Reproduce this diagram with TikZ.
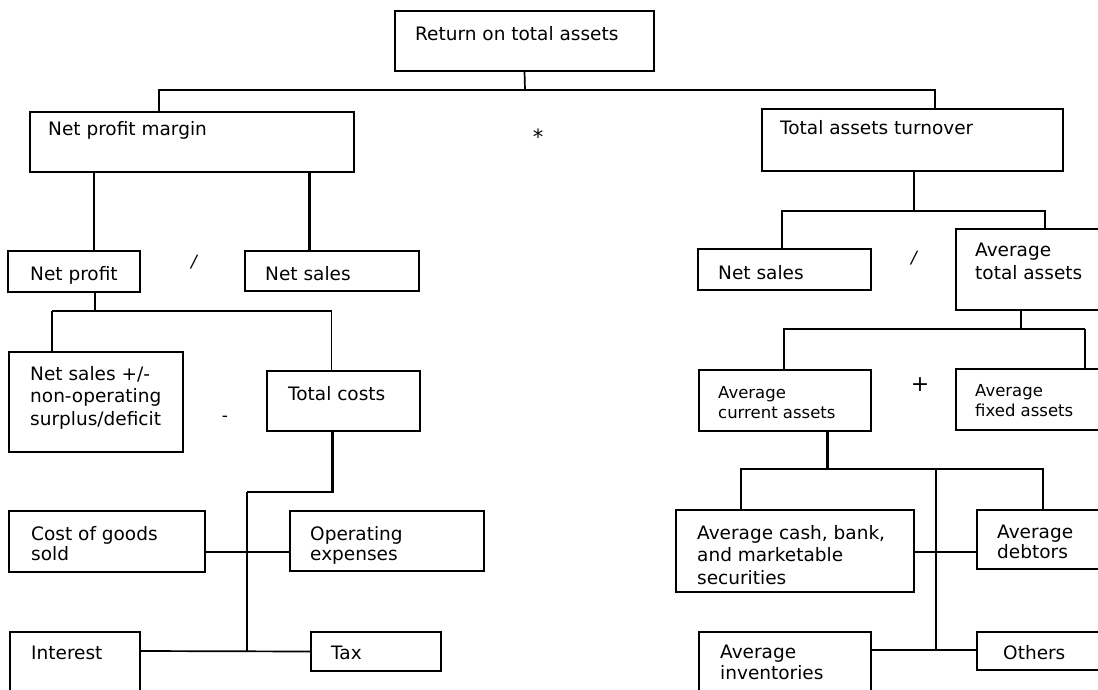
\documentclass[tikz,border=0pt]{standalone}
\usepackage{fontspec}
\setmainfont{DejaVu Sans}
\usetikzlibrary{calc}
\tikzset{
  box/.style={draw, line width=1.9pt, anchor=north west, inner sep=0pt, outer sep=0pt},
  txt/.style={anchor=north west, inner sep=0pt, align=left, font=\fontsize{18.5}{22.5}\selectfont},
  smalltxt/.style={txt, font=\fontsize{16.5}{20}\selectfont},
  optxt/.style={inner sep=0pt, font=\fontsize{17}{20}\selectfont},
  cmed/.style={line width=1.7pt},
  cthick/.style={line width=2.7pt},
  cthin/.style={line width=1.2pt}
}
\newcommand{\bx}[5]{\node[box, minimum width=#4pt, minimum height=#5pt] (#1) at (#2,#3) {};}
\begin{document}
\begin{tikzpicture}[x=1pt, y=-1pt]
\clip (0,0) rectangle (1098,689);
\fill[white] (0,0) rectangle (1098,689);
% boxes
\bx{top}{395}{11}{259}{60}
\bx{npm}{30}{112}{324}{60}
\bx{tat}{762}{109}{301}{62}
\bx{np}{8}{251}{132}{41}
\bx{nsa}{245}{251}{174}{40}
\bx{nsb}{698}{249}{173}{41}
\bx{ata}{956}{229}{160}{81}
\bx{nsx}{9}{352}{174}{100}
\bx{tc}{267}{371}{153}{60}
\bx{aca}{699}{370}{172}{61}
\bx{afa}{956}{369}{160}{61}
\bx{cogs}{9}{511}{196}{61}
\bx{opex}{290}{511}{194}{60}
\bx{cash}{676}{510}{238}{82}
\bx{deb}{977}{510}{140}{59}
\bx{int}{10}{632}{130}{70}
\bx{tax}{311}{632}{130}{39}
\bx{inv}{699}{632}{172}{70}
\bx{oth}{977}{632}{140}{38}
% texts
\node[txt] (topt) at (415,26) {Return on total assets};
\node[txt] (npmt) at (48,121) {Net profit margin};
\node[txt] (tatt) at (780,120) {Total assets turnover};
\node[txt] (npt) at (30,266) {Net profit};
\node[txt] (nsat) at (265,266) {Net sales};
\node[txt] (nsbt) at (718,265) {Net sales};
\node[txt] (atat) at (975,243) {Average\\total assets};
\node[txt] (nsxt) at (30,366) {Net sales +/-\\non-operating\\surplus/deficit};
\node[txt] (tct) at (288,386) {Total costs};
\node[smalltxt] (acat) at (718,386) {Average\\current assets};
\node[smalltxt] (afat) at (975,384) {Average\\fixed assets};
\node[txt, font=\fontsize{18.5}{20}\selectfont] (cogst) at (31,526) {Cost of goods\\sold};
\node[txt, font=\fontsize{18.5}{20}\selectfont] (opext) at (310,526) {Operating\\expenses};
\node[txt] (casht) at (697,525) {Average cash, bank,\\and marketable\\securities};
\node[txt, font=\fontsize{18.5}{20}\selectfont] (debt) at (997,525) {Average\\debtors};
\node[txt] (intt) at (31,646) {Interest};
\node[txt] (taxt) at (331,646) {Tax};
\node[txt, font=\fontsize{18.5}{21}\selectfont] (invt) at (720,645) {Average\\inventories};
\node[txt] (otht) at (1003,645) {Others};
% operators
\node[optxt, font=\fontsize{21}{24}\selectfont] (op1) at (538,137) {*};
\node[optxt] (op2) at (194,262) {\itshape /};
\node[optxt] (op3) at (225,419) {-};
\node[optxt] (op4) at (914,258) {\itshape /};
\node[optxt, font=\fontsize{22}{24}\selectfont] (op5) at (920,385) {+};
% connectors: return on total assets
\coordinate (j1) at (525,90);
\draw[cmed] (top.south) -- (j1);
\draw[cmed] (j1) -| ($(npm.north west)+(129,0)$);
\draw[cmed] (j1) -| ($(tat.north west)+(173,0)$);
% net profit margin
\draw[cthick] ($(npm.south west)+(64,0)$) -- ($(np.north west)+(86,0)$);
\draw[cthick] ($(npm.south west)+(279.5,0)$) -- ($(nsa.north west)+(64.5,0)$);
% net profit
\coordinate (j2) at (95,311);
\draw[cthick] ($(np.south west)+(87,0)$) -- (j2);
\draw[cthin] (j2) -| ($(tc.north west)+(64.6,0)$);
\draw[cmed] (j2) -- (52,311);
\draw[cthick] (52,311) -- ($(nsx.north west)+(43,0)$);
% total costs
\coordinate (j3) at (247,492);
\coordinate (j5) at (247,651);
\draw[cthick] ($(tc.south west)+(65.6,0)$) |- (j3);
\draw[cmed] (j3) -- (j5);
\draw[cthick] ($(cogs.south east)+(0,-20)$) -- ($(opex.south west)+(0,-19)$);
\draw[cmed] ($(int.north east)+(0,19)$) -- (tax.west);
% total assets turnover
\coordinate (j6) at (914,211);
\draw[cthin] ($(tat.south west)+(152,0)$) -- (j6);
\draw[cmed] (j6) -| ($(nsb.north west)+(84,0)$);
\draw[cthin] (j6) -| ($(ata.north west)+(89,0)$);
% average total assets
\coordinate (j7) at (1021,329);
\draw[cthin] ($(ata.south west)+(65,0)$) -- (j7);
\draw[cthin] (j7) -| ($(aca.north west)+(85,0)$);
\draw[cmed] (j7) -- (1085,329);
\draw[cthick] (1085,329) -- ($(afa.north west)+(129,0)$);
% average current assets
\coordinate (j8) at (827.6,469);
\coordinate (j9) at (935.7,469);
\coordinate (j10) at (935.7,650);
\draw[cthick] ($(aca.south west)+(128.6,0)$) -- (j8);
\draw[cmed] (j8) -| ($(cash.north west)+(65,0)$);
\draw[cmed] (j8) -| ($(deb.north west)+(65.7,0)$);
\draw[cmed] (j9) -- (j10);
\draw[cmed] ($(cash.north east)+(0,42)$) -- ($(deb.north west)+(0,42)$);
\draw[cmed] ($(inv.north east)+(0,18)$) -- ($(oth.north west)+(0,18)$);
\end{tikzpicture}
\end{document}
